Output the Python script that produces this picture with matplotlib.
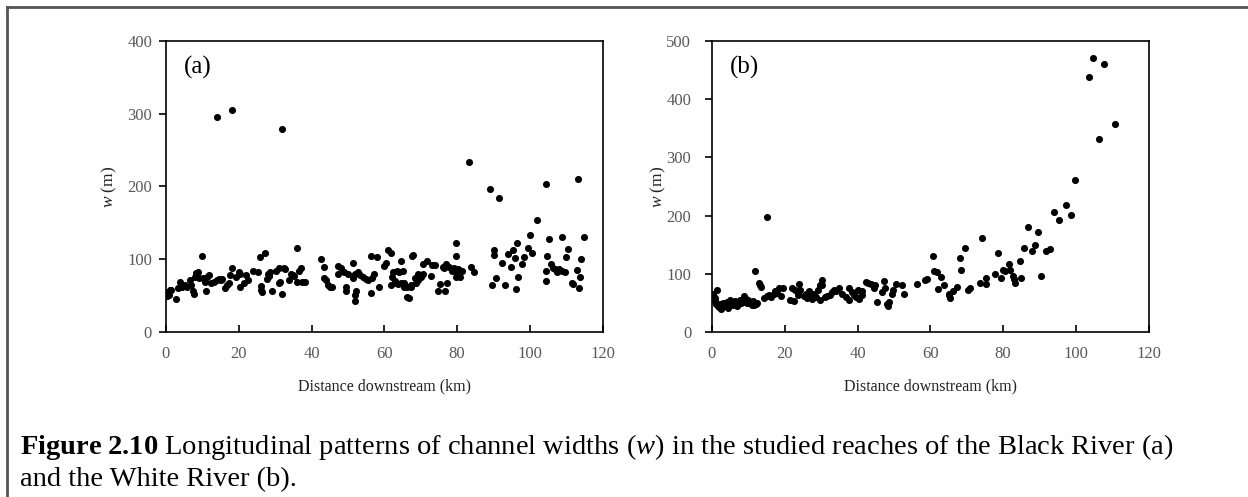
import matplotlib
matplotlib.use("Agg")
from matplotlib import pyplot as plt
from matplotlib.lines import Line2D

plt.rcParams['font.family'] = ['Liberation Serif', 'DejaVu Serif']
plt.rcParams['mathtext.fontset'] = 'custom'
plt.rcParams['mathtext.rm'] = 'Liberation Serif'
plt.rcParams['mathtext.it'] = 'Liberation Serif:italic'
plt.rcParams['mathtext.bf'] = 'Liberation Serif:bold'

#------------------------------------------------
# Black River (a): distance downstream (km), channel width (m)
a_km = [14, 18, 32, 83.3, 89, 91.4, 104.5, 113.2, 102, 99.9, 96.5, 79.6, 114.8, 108.9, 105.2,
        0.3, 0.5, 0.7, 1.0, 1.5, 2.7, 3.4, 3.8, 4.3, 5.2, 5.8, 6.5, 7.0, 7.3, 7.7, 7.9, 8.3, 8.7,
        9.2, 10.0, 10.3, 10.6, 11.2, 11.0, 11.9, 12.4, 13.3, 14.0, 14.5, 15.0, 15.5, 16.3, 16.8,
        17.2, 17.7, 18.1, 19.3, 20.0, 20.2, 20.4,
        21.3, 22.0, 22.4, 23.8, 25.3, 25.8, 26.0, 26.2, 26.4, 27.2, 27.7, 28.0, 28.3, 28.6, 29.0,
        30.1, 31.0, 31.4, 31.0, 31.8, 32.3, 32.7, 33.7, 34.4, 34.8, 35.3, 36.1, 36.6, 37.0, 36.0,
        37.3, 38.2,
        42.7, 43.3, 43.3, 43.9, 44.5, 45.0, 45.7, 47.2, 47.2, 48.1, 49.0, 50.0, 49.4, 49.4, 51.3,
        51.3, 52.0, 52.7, 53.3, 54.0, 51.9, 52.0, 52.2, 54.9, 55.6, 56.3, 58.1, 56.3, 56.7, 57.2,
        58.6,
        60.0, 60.4, 60.9, 61.8, 61.8, 62.0, 62.5, 62.8, 63.2, 63.6, 64.1, 64.5, 65.0, 64.5, 65.4,
        66.3, 66.3, 67.2, 67.7, 67.9, 68.6, 69.3, 70.0, 70.5, 70.5, 63.7, 65.5, 67.3, 66.8, 68.5,
        69.2, 71.6, 72.8, 73.2, 73.9, 74.6, 75.3, 76.6, 76.0, 76.5, 77.0, 77.3, 77.8, 78.7, 79.2,
        79.6, 80.1, 80.5, 81.3, 79.8, 79.8, 80.7,
        83.7, 84.6, 89.7, 90.0, 90.1, 90.8, 92.2, 93.1, 94.0, 94.9, 95.4, 95.8, 96.1, 96.7, 97.7,
        98.4, 99.5, 100.5, 104.5, 104.5, 104.8, 105.7, 106.2, 106.8, 107.5, 108.1, 108.8, 109.5,
        110.0, 110.5, 111.6, 111.9, 113.0, 113.4, 113.7, 114.1]
a_w = [296, 305, 279, 234, 197, 184, 204, 210, 154, 134, 123, 123, 130, 130, 128,
       50, 55, 51, 58, 58, 45, 60, 69, 62, 64, 62, 71, 65, 57, 52, 76, 81, 83,
       74, 104, 74, 69, 76, 57, 79, 67, 69, 71, 73, 71, 73, 60, 65,
       68, 79, 88, 76, 82, 80, 62,
       67, 79, 71, 84, 82, 103, 63, 58, 55, 109, 73, 80, 77, 82, 56,
       84, 88, 69, 67, 52, 88, 87, 71, 80, 78, 77, 115, 84, 88, 69,
       69, 69,
       101, 89, 74, 71, 65, 62, 62, 80, 91, 88, 82, 80, 62, 57, 95,
       74, 80, 82, 78, 76, 51, 43, 57, 73, 71, 104, 103, 53, 74, 80,
       62,
       91, 95, 113, 108, 65, 75, 82, 70, 67, 84, 82, 98, 84, 67, 62,
       62, 48, 62, 104, 106, 67, 72, 76, 80, 94, 66, 68, 65, 47, 74,
       80, 97, 77, 92, 92, 56, 66, 56, 90, 88, 93, 67, 90, 84, 88,
       82, 86, 85, 84, 104, 76, 76,
       90, 83, 65, 113, 106, 74, 95, 64, 107, 90, 113, 102, 59, 76, 94,
       103, 116, 108, 84, 70, 104, 94, 88, 86, 83, 86, 84, 82,
       103, 114, 68, 66, 85, 60, 76, 101]

# White River (b)
b_km = [0.2, 0.4, 0.5, 0.7, 0.9, 1.0, 1.4, 1.7, 1.8, 2.2, 2.5, 2.7, 3.1, 3.5, 3.7, 4.1, 4.5,
        4.9, 5.0, 5.4, 5.9, 6.4, 6.8, 7.2, 7.7, 8.0, 8.4, 8.8, 9.1, 9.5, 9.9, 10.3, 10.5, 10.9,
        11.3, 11.9, 11.5, 12.1, 12.4, 12.8, 13.2, 13.6, 14.2, 15.1, 15.0, 15.6, 16.2, 16.9, 17.3,
        17.8, 18.4, 19.0, 19.6,
        21.4, 22.6, 21.9, 22.8, 23.5, 23.9, 24.2, 25.3, 25.8, 26.2, 26.7, 27.2, 27.6, 28.1, 28.6,
        29.1, 29.6, 29.8, 30.1, 30.3, 31.1, 31.6, 32.3, 33.0, 33.6, 34.2, 34.9, 35.7, 36.7, 37.6,
        37.6, 38.5, 39.1, 39.6, 40.0, 40.4, 41.1, 41.3, 42.2, 42.9, 43.8, 44.4, 44.9, 45.4, 46.7,
        47.2, 47.6, 48.1, 48.5, 48.3,
        49.5, 49.8, 50.5, 52.3, 52.8, 56.3, 58.5, 59.2,
        60.7, 61.0, 61.8, 62.1, 62.9, 63.8, 65.0, 65.1, 65.5, 66.3, 67.4, 68.0, 68.5, 69.4, 70.3,
        71.0, 73.5, 74.1, 75.3, 75.4, 77.8, 78.5, 79.3, 79.9, 80.6, 81.5, 82.0, 82.6, 82.9, 83.2,
        84.5, 84.9, 85.7, 86.9, 87.8, 88.7, 89.6, 90.3, 91.8, 92.9, 94.0, 95.4, 97.3, 98.5, 99.8,
        103.5, 104.8, 106.4, 107.7, 110.8]
b_w = [66, 62, 60, 54, 58, 48, 72, 45, 43, 48, 40, 45, 49, 44, 48, 52, 41,
       55, 50, 49, 46, 53, 44, 48, 55, 50, 52, 61, 58, 49, 55, 52, 50, 47,
       53, 104, 46, 48, 50, 85, 81, 78, 58, 198, 62, 64, 60, 66, 70,
       67, 75, 62, 75,
       55, 53, 75, 72, 63, 82, 72, 62, 66, 58, 70, 62, 56, 66, 60,
       72, 81, 55, 90, 80, 60, 62, 64, 68, 72, 70, 75, 66, 60, 75,
       55, 68, 64, 60, 72, 57, 64, 70, 86, 84, 82, 76, 80, 52, 69,
       88, 75, 48, 52, 45,
       66, 72, 82, 80, 66, 82, 90, 91,
       130, 104, 103, 74, 95, 81, 63, 66, 58, 70, 78, 127, 106, 145, 73,
       76, 84, 161, 93, 83, 99, 136, 93, 107, 105, 117, 106, 96, 91, 84,
       122, 93, 145, 180, 140, 150, 172, 96, 140, 142, 206, 192, 219, 201, 261,
       439, 470, 332, 460, 357]

x_ticks = [0, 20, 40, 60, 80, 100, 120]
a_yticks = [0, 100, 200, 300, 400]
b_yticks = [0, 100, 200, 300, 400, 500]

#------------------------------------------------

fig = plt.figure(figsize=(12.48, 4.97), dpi=100)
tick_grey = '#595959'

panels = [
    (0.1330, a_km, a_w, a_yticks, 400, '(a)', 5, 6),
    (0.5705, b_km, b_w, b_yticks, 500, '(b)', 10, -1),
]

for left, xs, ys, yt, ymax, tag, ypad, lpad in panels:
    ax = fig.add_axes([left, 0.3320, 0.3500, 0.5855])
    ax.scatter(xs, ys, s=26, color='black', linewidths=0, zorder=3)
    ax.set_xlim(0, 120)
    ax.set_ylim(0, ymax)
    ax.set_xticks(x_ticks)
    ax.set_yticks(yt)
    for sp in ax.spines.values():
        sp.set_linewidth(1.2)
    ax.tick_params(axis='x', direction='in', length=5, width=1.2, pad=10,
                   labelsize=12, labelcolor=tick_grey)
    ax.tick_params(axis='y', direction='out', length=5, width=1.2, pad=ypad,
                   labelsize=12, labelcolor=tick_grey)
    ax.set_xlabel('Distance downstream (km)', fontsize=11.5, labelpad=12, color='#222222')
    ax.set_ylabel(r'$\mathit{w}$ (m)', fontsize=12.5, labelpad=lpad, color='#222222')
    ax.text(0.04, 0.91, tag, transform=ax.transAxes, fontsize=18, va='center', ha='left')

# frame lines of the figure box
fig.add_artist(Line2D([7 / 1248, 1], [1 - 7 / 497, 1 - 7 / 497], color='#555555', lw=2))
fig.add_artist(Line2D([7 / 1248, 7 / 1248], [0, 1 - 7 / 497], color='#555555', lw=2))

# Caption
fig.text(20 / 1248, 1 - 454 / 497,
         r'$\mathbf{Figure\ 2.10}$ Longitudinal patterns of channel widths ($\mathit{w}$) '
         r'in the studied reaches of the Black River (a)',
         fontsize=20.5, va='baseline', ha='left')
fig.text(20 / 1248, 1 - 486 / 497, 'and the White River (b).',
         fontsize=20.5, va='baseline', ha='left')

plt.savefig('out.png', dpi=100)
